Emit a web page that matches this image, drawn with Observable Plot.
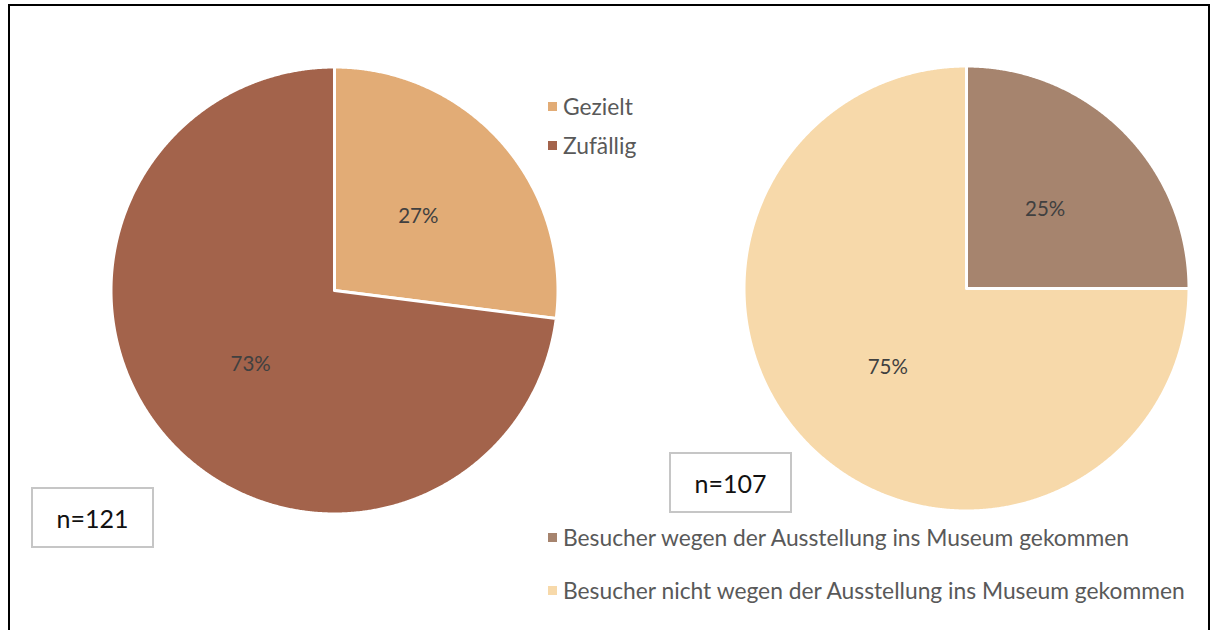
<!DOCTYPE html>
<html><head><meta charset="utf-8">
<script src="https://cdn.jsdelivr.net/npm/d3@7"></script>
<script src="https://cdn.jsdelivr.net/npm/@observablehq/plot@0.6"></script>
<style>
html,body{margin:0;padding:0;background:#fff;}
body{position:relative;width:1214px;height:630px;overflow:hidden;font-family:Lato,"Open Sans",sans-serif;}
#frame{position:absolute;left:8px;top:4px;width:1202px;height:700px;border:2px solid #000;border-bottom:none;box-sizing:border-box;}
.legend-item{position:absolute;display:flex;align-items:center;color:#595959;font-size:22.8px;white-space:nowrap;}
.legend-item .sw{width:9px;height:9px;margin-right:6px;flex:none;}
.nbox{position:absolute;box-sizing:border-box;border:2px solid #c6c6c6;background:#fff;display:flex;align-items:center;justify-content:center;font-size:25px;color:#111;}
</style>
</head><body>
<div id="frame"></div>
<div id="root"></div>
<script>
// ---- data ----
const pie1Categories = ["Gezielt", "Zufällig"];
const pie1Values = [27, 73];
const pie1Colors = ["#E2AC76", "#A3634B"];
const pie1N = 121;

const pie2Categories = ["Besucher wegen der Ausstellung ins Museum gekommen", "Besucher nicht wegen der Ausstellung ins Museum gekommen"];
const pie2Values = [25, 75];
const pie2Colors = ["#A6846E", "#F7D9AA"];
const pie2N = 107;

// ---- helpers ----
function buildSlices(cats, vals) {
  const arcs = d3.pie().sort(null).value(d => d)(vals);
  const pts = [], labels = [];
  arcs.forEach((a, i) => {
    const n = Math.max(2, Math.ceil((a.endAngle - a.startAngle) / 0.005));
    pts.push({x: 0, y: 0, cat: cats[i]});
    for (let k = 0; k <= n; k++) {
      const t = a.startAngle + (a.endAngle - a.startAngle) * k / n;
      pts.push({x: Math.sin(t), y: Math.cos(t), cat: cats[i]});
    }
    pts.push({x: 0, y: 0, cat: cats[i]});
    const m = (a.startAngle + a.endAngle) / 2;
    labels.push({x: 0.5 * Math.sin(m), y: 0.5 * Math.cos(m), label: vals[i] + "%"});
  });
  return {pts, labels};
}

function pieChart(cats, vals, colors, radiusPx, size) {
  const {pts, labels} = buildSlices(cats, vals);
  const D = (size / 2) / radiusPx;
  return Plot.plot({
    width: size, height: size, margin: 0,
    style: {fontFamily: "Lato, 'Open Sans', sans-serif", background: "transparent", overflow: "visible"},
    x: {domain: [-D, D], axis: null},
    y: {domain: [-D, D], axis: null},
    color: {domain: cats, range: colors},
    marks: [
      Plot.line(pts, {x: "x", y: "y", z: "cat", fill: "cat", stroke: "white", strokeWidth: 3, strokeLinejoin: "round", curve: "linear"}),
      Plot.text(labels, {x: "x", y: "y", text: "label", fontSize: 20.5, fill: "#404040"})
    ]
  });
}

function place(el, left, top) {
  el.style.position = "absolute";
  el.style.left = left + "px";
  el.style.top = top + "px";
  document.getElementById("root").appendChild(el);
}

const SIZE = 470;
place(pieChart(pie1Categories, pie1Values, pie1Colors, 223.5, SIZE), 334 - SIZE / 2, 290 - SIZE / 2);
place(pieChart(pie2Categories, pie2Values, pie2Colors, 222.5, SIZE), 966 - SIZE / 2, 288 - SIZE / 2);

function legend(cats, colors, left, tops) {
  cats.forEach((c, i) => {
    const d = document.createElement("div");
    d.className = "legend-item";
    const sw = document.createElement("span");
    sw.className = "sw";
    sw.style.background = colors[i];
    const t = document.createElement("span");
    t.textContent = c;
    d.appendChild(sw); d.appendChild(t);
    d.style.left = left + "px";
    d.style.top = (tops[i] - 16) + "px";
    d.style.height = "32px";
    document.getElementById("root").appendChild(d);
  });
}
legend(pie1Categories, pie1Colors, 548, [106, 145]);
legend(pie2Categories, pie2Colors, 548, [537, 590]);

function nbox(n, left, top) {
  const d = document.createElement("div");
  d.className = "nbox";
  d.textContent = "n=" + n;
  d.style.left = left + "px"; d.style.top = top + "px";
  d.style.width = "123px"; d.style.height = "61px";
  document.getElementById("root").appendChild(d);
}
nbox(pie1N, 31, 487);
nbox(pie2N, 669, 452);
</script>
</body></html>
